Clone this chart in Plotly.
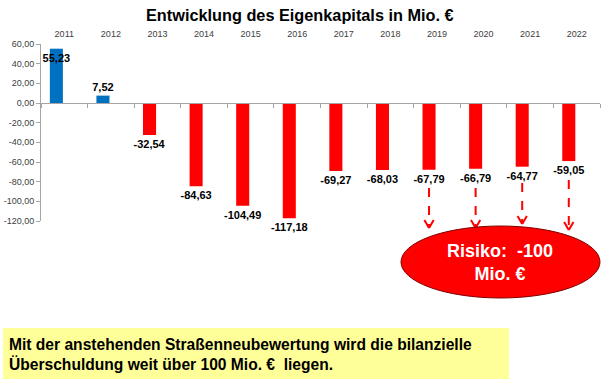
import plotly.graph_objects as go

years = ["2011", "2012", "2013", "2014", "2015", "2016", "2017", "2018", "2019", "2020", "2021", "2022"]
equity = [55.23, 7.52, -32.54, -84.63, -104.49, -117.18, -69.27, -68.03, -67.79, -66.79, -64.77, -59.05]
ytick_vals = [60, 40, 20, 0, -20, -40, -60, -80, -100, -120]
risk_years = ["2019", "2020", "2021", "2022"]

def de(v):
    return f"{v:.2f}".replace(".", ",")

FONT = "Liberation Sans, Arial, sans-serif"
W, H = 601, 383
ML, MR, MT, MB = 41, 1, 44, 162
PW = W - ML - MR
PH = H - MT - MB

def py(p):  # pixel y -> paper y
    return (H - MB - p) / PH

def px(p):  # pixel x -> paper x
    return (p - ML) / PW

colors = ["#0070C0" if v >= 0 else "#FF0000" for v in equity]
# the tallest bar's label sits at the top of its bar (it would collide with the year labels)
positions = ["inside" if v == max(equity) else "outside" for v in equity]

fig = go.Figure()
fig.add_trace(go.Bar(
    x=years, y=equity, marker=dict(color=colors, line=dict(width=0)),
    width=0.28, offset=-0.31,
    text=[de(v) for v in equity], textposition=positions, constraintext="none",
    insidetextanchor="end", textangle=0,
    textfont=dict(family=FONT, size=11, color="black", weight="bold"),
    cliponaxis=False, showlegend=False, hoverinfo="skip",
))
fig.add_trace(go.Scatter(x=years, y=[None] * len(years), xaxis="x2", yaxis="y",
                         showlegend=False, hoverinfo="skip"))

zero_pos = (0 - (-120)) / (60 - (-120))

fig.update_layout(
    width=W, height=H,
    margin=dict(l=ML, r=MR, t=MT, b=MB, autoexpand=False),
    paper_bgcolor="white", plot_bgcolor="white",
    font=dict(family=FONT),
    xaxis=dict(type="category", anchor="free", position=zero_pos, automargin=False,
               showline=True, linecolor="#A6A6A6", linewidth=1,
               ticks="outside", tickson="boundaries", ticklen=4, tickcolor="#A6A6A6",
               showticklabels=False, showgrid=False, zeroline=False,
               range=[-0.5, 11.5]),
    xaxis2=dict(type="category", overlaying="x", matches="x", side="top", anchor="y",
                automargin=False, showline=False, ticks="", showgrid=False, zeroline=False,
                ticklabelstandoff=4,
                tickfont=dict(family=FONT, size=9, color="#404040")),
    yaxis=dict(range=[-120, 60], tickvals=ytick_vals, ticktext=[de(v) for v in ytick_vals],
               automargin=False,
               ticks="outside", ticklen=4, tickcolor="#A6A6A6",
               showline=True, linecolor="#A6A6A6", linewidth=1,
               showgrid=False, zeroline=False,
               tickfont=dict(family=FONT, size=9, color="#404040")),
)

fig.add_annotation(text="<b>Entwicklung des Eigenkapitals in Mio. €</b>",
                   xref="paper", yref="paper", x=px(300), y=py(15),
                   xanchor="center", yanchor="middle", showarrow=False,
                   font=dict(family=FONT, size=16.3, color="black"))

# dashed arrows
starts = [188, 188, 183, 180]
ends = [228, 228, 224, 230]
for yr, s, e in zip(risk_years, starts, ends):
    xi = years.index(yr) - 0.17
    fig.add_shape(type="line", xref="x", yref="paper", x0=xi, x1=xi, y0=py(s), y1=py(e),
                  line=dict(color="#FF0000", width=2, dash="dash"))
    for d in (-0.1, 0.1):
        fig.add_shape(type="line", xref="x", yref="paper", x0=xi + d, x1=xi,
                      y0=py(e - 8), y1=py(e), line=dict(color="#FF0000", width=2))

# ellipse
fig.add_shape(type="circle", xref="paper", yref="paper",
              x0=px(401), x1=px(600), y0=py(298), y1=py(226),
              fillcolor="#FF0000", line=dict(color="#800000", width=1))
fig.add_annotation(text="<b>Risiko:  -100<br>Mio. €</b>", xref="paper", yref="paper",
                   x=px(500), y=py(262), xanchor="center", yanchor="middle", showarrow=False,
                   font=dict(family=FONT, size=18, color="white"))

# yellow box
fig.add_shape(type="rect", xref="paper", yref="paper",
              x0=px(3), x1=px(509), y0=py(379), y1=py(328),
              fillcolor="#FFFF99", line=dict(width=0), layer="below")
fig.add_annotation(text="<b>Mit der anstehenden Straßenneubewertung wird die bilanzielle<br>Überschuldung weit über 100 Mio. €  liegen.</b>",
                   xref="paper", yref="paper", x=px(7), y=py(354), xanchor="left", yanchor="middle",
                   align="left", showarrow=False,
                   font=dict(family=FONT, size=15.6, color="black"))

fig.write_html("out.html", config={"displayModeBar": False},
               post_script="document.body.style.margin='0px';document.body.style.padding='0px';")
